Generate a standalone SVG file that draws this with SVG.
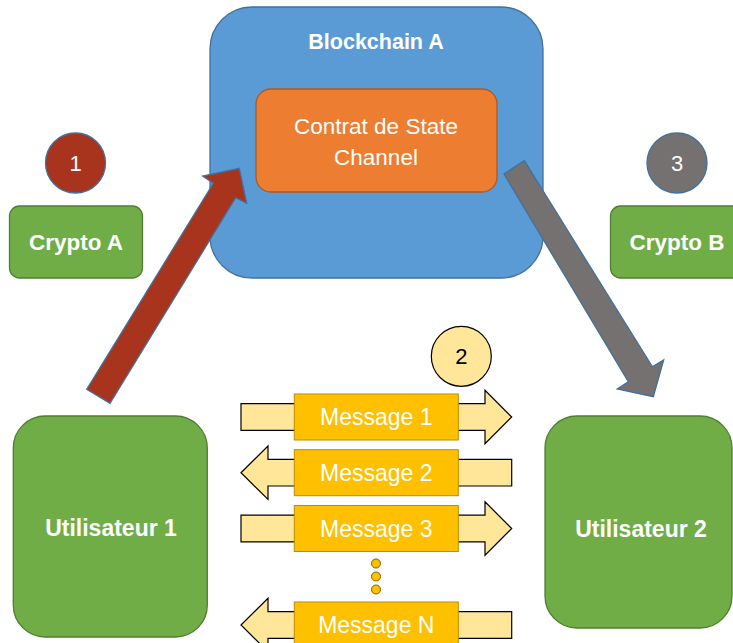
<svg xmlns="http://www.w3.org/2000/svg" width="733" height="643" viewBox="0 0 733 643">
<style>
.t{font-family:"Liberation Sans",Arial,sans-serif;fill:#fff;text-anchor:middle;dominant-baseline:central}
.b{font-weight:bold}
.green{fill:#70AD47;stroke:#507E32;stroke-width:1.3}
.msgArrow{fill:#FFE699;stroke:#000;stroke-width:1.2}
.msgBox{fill:#FFC000;stroke:#BC8C00;stroke-width:1}
.dot{fill:#FFC000;stroke:#7F6000;stroke-width:1}
</style>
<defs>
<path id="ra" d="M241,-13.3 H485 V-26.7 L511.7,0 L485,26.7 V13.3 H241 Z"/>
<path id="la" d="M241,0 L268,-26.7 V-13.3 H511.7 V13.3 H268 V26.7 Z"/>
</defs>
<rect width="733" height="643" fill="#fff"/>

<g id="blockchainA">
<rect x="210" y="7" width="333" height="271" rx="42" fill="#5B9BD5" stroke="#41719C" stroke-width="1.3"/>
<text class="t b" x="376" y="42" font-size="21.5">Blockchain A</text>
</g>
<g id="contrat">
<rect x="256" y="89" width="241" height="103" rx="15" fill="#ED7D31" stroke="#AE5A21" stroke-width="1.3"/>
<text class="t" x="376" y="126" font-size="22.5">Contrat de State</text>
<text class="t" x="376" y="157" font-size="22.5">Channel</text>
</g>

<g id="circle1">
<circle cx="75.5" cy="163" r="30" fill="#A9341E" stroke="#41719C" stroke-width="1.3"/>
<text class="t" x="75.5" y="163" font-size="22">1</text>
</g>
<g id="cryptoA">
<rect class="green" x="9.5" y="206" width="133" height="72" rx="10"/>
<text class="t b" x="76" y="242" font-size="22.5">Crypto A</text>
</g>
<g id="circle3">
<circle cx="677" cy="163" r="30" fill="#767171" stroke="#41719C" stroke-width="1.3"/>
<text class="t" x="677" y="163" font-size="22">3</text>
</g>
<g id="cryptoB">
<rect class="green" x="610.5" y="206" width="133" height="72" rx="10"/>
<text class="t b" x="677" y="242" font-size="22.5">Crypto B</text>
</g>
<g id="circle2">
<circle cx="461.3" cy="356.3" r="30" fill="#FFE699" stroke="#000" stroke-width="1.2"/>
<text class="t" x="461.3" y="356.3" font-size="22" style="fill:#000">2</text>
</g>

<g id="utilisateur1">
<rect class="green" x="13.3" y="416" width="194" height="221" rx="32"/>
<text class="t b" x="111" y="528" font-size="23">Utilisateur 1</text>
</g>
<g id="utilisateur2">
<rect class="green" x="545" y="416" width="187" height="212" rx="32"/>
<text class="t b" x="641" y="529" font-size="23">Utilisateur 2</text>
</g>

<g id="connectors">
<path d="M86.7,389.3 L213.3,183.3 L202.7,176 L239.3,168.3 L246.7,203.3 L235.7,197.7 L110,403.3 Z" fill="#A9341E" stroke="#41719C" stroke-width="1.3" stroke-linejoin="miter"/>
<path d="M504,174 L524.3,160.7 L652.3,366.7 L663.7,360 L653.3,396.7 L617.3,389 L628.3,381.7 Z" fill="#767171" stroke="#41719C" stroke-width="1.3"/>
</g>

<g id="message1" transform="translate(0,417)">
<use href="#ra" class="msgArrow"/>
<rect class="msgBox" x="294.3" y="-23" width="164" height="46"/>
<text class="t" x="376.3" y="0" font-size="23">Message 1</text>
</g>
<g id="message2" transform="translate(0,472.7)">
<use href="#la" class="msgArrow"/>
<rect class="msgBox" x="294.3" y="-23" width="164" height="46"/>
<text class="t" x="376.3" y="0" font-size="23">Message 2</text>
</g>
<g id="message3" transform="translate(0,528.5)">
<use href="#ra" class="msgArrow"/>
<rect class="msgBox" x="294.3" y="-23" width="164" height="46"/>
<text class="t" x="376.3" y="0" font-size="23">Message 3</text>
</g>
<g id="ellipsis">
<circle class="dot" cx="376" cy="563.5" r="4.5"/>
<circle class="dot" cx="376" cy="576.5" r="4.5"/>
<circle class="dot" cx="376" cy="589.5" r="4.5"/>
</g>
<g id="messageN" transform="translate(0,625)">
<use href="#la" class="msgArrow"/>
<rect class="msgBox" x="294.3" y="-23" width="164" height="46"/>
<text class="t" x="376.3" y="0" font-size="23">Message N</text>
</g>
</svg>
